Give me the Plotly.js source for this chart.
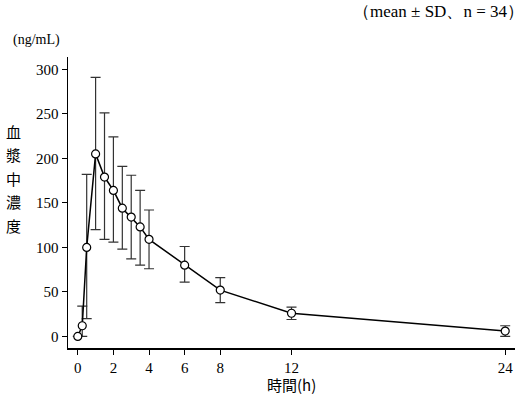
<!DOCTYPE html>
<html>
<head>
<meta charset="utf-8">
<script src="https://cdn.plot.ly/plotly-3.0.1.min.js"></script>
<style>html,body{margin:0;padding:0;background:#fff;}#chart{width:524px;height:395px;}</style>
</head>
<body>
<div id="chart"></div>
<script>
const timeH = [0, 0.25, 0.5, 1, 1.5, 2, 2.5, 3, 3.5, 4, 6, 8, 12, 24];
const meanConc = [0, 12, 100, 205, 179, 164, 144, 134, 123, 109, 80, 52, 26, 6];
const sdPlus = [0, 22, 82, 86, 72, 60, 47, 47, 41, 33, 21, 14, 7, 6];
const sdMinus = [0, 12, 80, 85, 70, 58, 46, 47, 43, 33, 19, 14, 7, 6];
const xTicks = [0, 2, 4, 6, 8, 12, 24];
const yTicks = [0, 50, 100, 150, 200, 250, 300];
const yTitleChars = ['血', '漿', '中', '濃', '度'];

const serif = "Times New Roman";
const cjk = "Noto Sans CJK JP";

const trace = {
  x: timeH, y: meanConc, type: 'scatter', mode: 'lines+markers',
  line: {color: '#000', width: 1.5},
  marker: {symbol: 'circle', size: 8, color: '#fff', line: {color: '#000', width: 1.2}},
  error_y: {type: 'data', symmetric: false, array: sdPlus, arrayminus: sdMinus,
            color: '#333', thickness: 1.2, width: 5},
  cliponaxis: true
};

const annotations = [
  {text: '（mean ± SD、n = 34）', xref: 'paper', yref: 'paper', x: 1.025, y: 1, xanchor: 'right', yanchor: 'middle',
   yshift: 46, showarrow: false, font: {family: serif, size: 17}},
  {text: '(ng/mL)', xref: 'paper', yref: 'paper', x: 0, y: 1, xanchor: 'left', yanchor: 'middle',
   xshift: -57, yshift: 17, showarrow: false, font: {family: serif, size: 14}}
];
yTitleChars.forEach((ch, i) => {
  annotations.push({text: ch, xref: 'paper', yref: 'paper', x: 0, y: 1, xanchor: 'center', yanchor: 'middle',
    xshift: -55, yshift: -(131 + i * 23.5 - 57), showarrow: false, font: {family: cjk, size: 15}});
});
annotations.push({text: '時間(h)', xref: 'paper', yref: 'paper', x: 0.5, y: 0, xanchor: 'center', yanchor: 'top',
  xshift: 0, yshift: -24, showarrow: false, font: {family: cjk, size: 15}});

const layout = {
  width: 524, height: 395,
  margin: {l: 68, r: 9, t: 57, b: 47},
  paper_bgcolor: '#fff', plot_bgcolor: '#fff',
  showlegend: false,
  font: {family: serif, color: '#000', size: 15},
  xaxis: {
    range: [-0.55, 24.55], tickvals: xTicks, ticktext: xTicks.map(String),
    showgrid: false, zeroline: false, showline: true, linecolor: '#000', linewidth: 1.5,
    ticks: 'outside', ticklen: 5, tickwidth: 1, tickcolor: '#000',
    tickfont: {family: serif, size: 15}, mirror: false
  },
  yaxis: {
    range: [-13, 313.8], tickvals: yTicks, ticktext: yTicks.map(String),
    showgrid: false, zeroline: false, showline: true, linecolor: '#000', linewidth: 1.5,
    ticks: 'outside', ticklen: 5, tickwidth: 1, tickcolor: '#000',
    tickfont: {family: serif, size: 15}, mirror: false
  },
  annotations: annotations
};

Plotly.newPlot('chart', [trace], layout, {displayModeBar: false, staticPlot: true});
</script>
</body>
</html>
